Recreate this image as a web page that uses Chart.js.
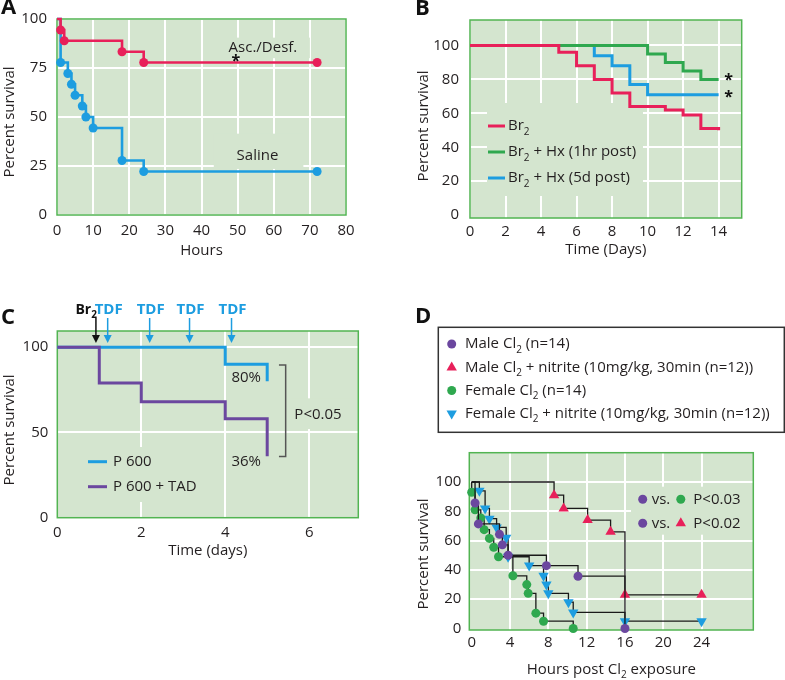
<!DOCTYPE html>
<html>
<head>
<meta charset="utf-8">
<title>Survival curves</title>
<script src="https://cdn.jsdelivr.net/npm/chart.js@4.4.1/dist/chart.umd.min.js"></script>
<style>
  html, body { margin: 0; padding: 0; background: #ffffff; }
  #page { position: relative; width: 785px; height: 680px; overflow: hidden; }
  #page canvas { position: absolute; }
</style>
</head>
<body>
<div id="page">
  <canvas id="panelA" width="390" height="265" style="left:0px;top:0px"></canvas>
  <canvas id="panelB" width="395" height="265" style="left:390px;top:0px"></canvas>
  <canvas id="panelC" width="390" height="275" style="left:0px;top:290px"></canvas>
  <canvas id="panelD" width="395" height="380" style="left:390px;top:300px"></canvas>
</div>
<script>
// ---------- Panel A: hours vs percent survival
const ascHours = [0, 1, 2, 18, 24, 72];
const ascSurvival = [100, 94.4, 88.9, 83.3, 77.8, 77.8];
const salineHours = [0, 1, 3, 4, 5, 7, 8, 10, 18, 24, 72];
const salineSurvival = [100, 77.8, 72.2, 66.7, 61.1, 55.6, 50, 44.4, 27.8, 22.2, 22.2];
const hourTicksA = [0, 10, 20, 30, 40, 50, 60, 70, 80];
const survivalTicksA = [0, 25, 50, 75, 100];

// ---------- Panel B: days vs percent survival
const br2Days = [0, 5, 6, 7, 8, 9, 11, 12, 13, 14];
const br2Survival = [100, 96, 88, 80, 72, 64, 62, 59, 51, 50];
const hx1hDays = [0, 10, 11, 12, 13, 14];
const hx1hSurvival = [100, 95, 90, 85, 80, 80];
const hx5dDays = [0, 7, 8, 9, 10, 14];
const hx5dSurvival = [100, 94, 88, 77, 71, 71];
const dayTicksB = [0, 2, 4, 6, 8, 10, 12, 14];
const survivalTicksB = [0, 20, 40, 60, 80, 100];
const legendB = ['Br_2', 'Br_2 + Hx (1hr post)', 'Br_2 + Hx (5d post)'];

// ---------- Panel C
const p600Days = [0, 4, 5];
const p600Survival = [100, 90, 80];
const tadDays = [0, 1, 2, 4, 5];
const tadSurvival = [100, 79, 68, 58, 36];
const br2DoseDay = 0.92;
const tdfDays = [1.2, 2.2, 3.15, 4.15];
const dayTicksC = [0, 2, 4, 6];
const survivalTicksC = [0, 50, 100];
const legendC = ['P 600', 'P 600 + TAD'];

// ---------- Panel D
const maleHours = [0, 0.35, 0.7, 2.9, 3.2, 3.8, 7.8, 11.1, 16];
const maleSurvival = [100, 85.7, 71.4, 64.3, 57.1, 50, 42.9, 35.7, 0];
const maleNitHours = [0, 8.6, 9.6, 12.1, 14.5, 16, 24];
const maleNitSurvival = [100, 91, 82, 74, 66, 23, 23];
const femaleHours = [0, 0, 0.35, 0.95, 1.3, 1.85, 2.3, 2.8, 4.3, 5.75, 5.9, 6.7, 7.5, 10.6];
const femaleSurvival = [100, 93, 81, 75.5, 67.5, 61.5, 55.5, 49, 36, 30, 24, 10.5, 5, 0];
const femaleNitHours = [0, 0.8, 1.4, 1.85, 2.6, 3.6, 3.8, 6, 7.5, 7.8, 8, 10.1, 10.6, 16, 24];
const femaleNitSurvival = [100, 94, 82, 75, 69, 62, 49, 43, 36, 30, 24, 18, 11, 5, 5];
const hourTicksD = [0, 4, 8, 12, 16, 20, 24];
const survivalTicksD = [0, 20, 40, 60, 80, 100];
const legendD = [
  'Male Cl_2 (n=14)',
  'Male Cl_2 + nitrite (10mg/kg, 30min (n=12))',
  'Female Cl_2 (n=14)',
  'Female Cl_2 + nitrite (10mg/kg, 30min (n=12))'
];

const FONT = '"Open Sans", sans-serif';
const INK = '#231f20';
const PLOT_BG = '#d4e5cf';
const FRAME = '#52b452';
const RED = '#e8205a';
const BLUE = '#1d9de0';
const GREEN = '#2fa84f';
const PURPLE = '#6b479f';

Chart.defaults.font.family = FONT;
Chart.defaults.font.size = 15;
Chart.defaults.color = INK;

const pts = (xs, ys) => xs.map((v, i) => ({ x: v, y: ys[i] }));

// draws text; "_2" marks a subscript digit
function rich(ctx, str, x, y, size, opt) {
  opt = opt || {};
  const parts = str.split(/_(\d)/);
  const weight = opt.weight || 'normal';
  const sub = Math.round(size * 0.68);
  ctx.save();
  ctx.fillStyle = opt.color || INK;
  ctx.textBaseline = 'middle';
  ctx.textAlign = 'left';
  const w = parts.map((p, i) => {
    ctx.font = weight + ' ' + (i % 2 ? sub : size) + 'px ' + FONT;
    return ctx.measureText(p).width;
  });
  const total = w.reduce((s, v) => s + v, 0);
  let cx = opt.align === 'center' ? x - total / 2 : opt.align === 'right' ? x - total : x;
  parts.forEach((p, i) => {
    ctx.font = weight + ' ' + (i % 2 ? sub : size) + 'px ' + FONT;
    ctx.fillText(p, cx, i % 2 ? y + size * 0.4 : y);
    cx += w[i];
  });
  ctx.restore();
}

function yTitle(ctx, text, cx, cy) {
  ctx.save();
  ctx.translate(cx, cy);
  ctx.rotate(-Math.PI / 2);
  ctx.fillStyle = INK;
  ctx.font = '15px ' + FONT;
  ctx.textAlign = 'center';
  ctx.textBaseline = 'middle';
  ctx.fillText(text, 0, 0);
  ctx.restore();
}

function letter(ctx, t, x, y) {
  ctx.save();
  ctx.fillStyle = '#111';
  ctx.font = 'bold 22px ' + FONT;
  ctx.textBaseline = 'middle';
  ctx.fillText(t, x, y);
  ctx.restore();
}

function star(ctx, x, y) {
  ctx.save();
  ctx.fillStyle = '#111';
  ctx.font = 'bold 16px ' + FONT;
  ctx.textAlign = 'center';
  ctx.textBaseline = 'middle';
  ctx.fillText('*', x, y + 4);
  ctx.restore();
}

function marker(ctx, style, x, y, r, color) {
  ctx.save();
  ctx.fillStyle = color;
  ctx.beginPath();
  if (style === 'circle') {
    ctx.arc(x, y, r, 0, Math.PI * 2);
  } else {
    const s = style === 'down' ? -1 : 1;
    const h = r * Math.sin(Math.PI / 3);
    ctx.moveTo(x, y - s * r);
    ctx.lineTo(x + h, y + s * r / 2);
    ctx.lineTo(x - h, y + s * r / 2);
    ctx.closePath();
  }
  ctx.fill();
  ctx.restore();
}

function arrow(ctx, x, y0, y1, color) {
  ctx.save();
  ctx.strokeStyle = color;
  ctx.fillStyle = color;
  ctx.lineWidth = 1.5;
  ctx.beginPath();
  ctx.moveTo(x, y0);
  ctx.lineTo(x, y1 - 6);
  ctx.stroke();
  ctx.beginPath();
  ctx.moveTo(x - 4, y1 - 8);
  ctx.lineTo(x + 4, y1 - 8);
  ctx.lineTo(x, y1);
  ctx.closePath();
  ctx.fill();
  ctx.restore();
}

function swatch(ctx, x0, x1, y, color) {
  ctx.save();
  ctx.strokeStyle = color;
  ctx.lineWidth = 3;
  ctx.beginPath();
  ctx.moveTo(x0, y);
  ctx.lineTo(x1, y);
  ctx.stroke();
  ctx.restore();
}

// plot-coloured patch that hides grid lines behind labels
function backBox(chart, x0, x1, y0, y1) {
  const { ctx, scales: { x, y } } = chart;
  const l = x.getPixelForValue(x0), r = x.getPixelForValue(x1);
  const t = y.getPixelForValue(y0), b = y.getPixelForValue(y1);
  ctx.save();
  ctx.fillStyle = PLOT_BG;
  ctx.fillRect(l, t, r - l, b - t);
  ctx.restore();
}

function pxBox(chart, dl, dt, w, h) {
  const { ctx, chartArea: a } = chart;
  ctx.save();
  ctx.fillStyle = PLOT_BG;
  ctx.fillRect(a.left + dl, a.top + dt, w, h);
  ctx.restore();
}

function drawFrame(chart) {
  const { ctx, chartArea: a } = chart;
  ctx.save();
  ctx.strokeStyle = FRAME;
  ctx.lineWidth = 1.5;
  ctx.strokeRect(a.left, a.top, a.width, a.height);
  ctx.restore();
}

Chart.register({
  id: 'plotBackground',
  beforeDraw(chart) {
    const { ctx, chartArea: a } = chart;
    ctx.save();
    ctx.fillStyle = PLOT_BG;
    ctx.fillRect(a.left, a.top, a.width, a.height);
    ctx.restore();
  }
});

function linAxis(min, max, ticks, size, pad, hideAt, title, titlePad) {
  return {
    type: 'linear',
    min: min,
    max: max,
    afterBuildTicks: s => { s.ticks = ticks.map(v => ({ value: v })); },
    afterFit: s => {
      if (size.width != null) s.width = size.width;
      if (size.height != null) s.height = size.height;
    },
    grid: {
      color: c => (c.tick && hideAt.includes(c.tick.value)) ? 'rgba(0,0,0,0)' : '#ffffff',
      lineWidth: 2,
      drawTicks: false
    },
    border: { display: false },
    ticks: { padding: pad, color: INK, autoSkip: false, maxRotation: 0, font: { size: 15 } },
    title: title ? { display: true, text: title, color: INK, font: { size: 15 }, padding: titlePad } : { display: false }
  };
}

function baseOptions(padding, xAxis, yAxis) {
  return {
    responsive: false,
    maintainAspectRatio: false,
    animation: false,
    events: [],
    layout: { padding: padding },
    plugins: { legend: { display: false }, tooltip: { enabled: false } },
    scales: { x: xAxis, y: yAxis }
  };
}

function kmLine(xs, ys, color, width, radius) {
  return {
    data: pts(xs, ys),
    stepped: 'before',
    borderColor: color,
    borderWidth: width,
    pointRadius: c => (c.dataIndex === 0 ? 0 : radius),
    pointBackgroundColor: color,
    pointBorderWidth: 0,
    clip: false
  };
}

function kmMarked(xs, ys, color, style, radius, rotation) {
  return {
    data: pts(xs, ys),
    stepped: 'before',
    borderColor: '#1a1a1a',
    borderWidth: 1.3,
    pointStyle: style,
    pointRotation: rotation,
    pointRadius: c => (c.dataIndex === 0 ? 0 : radius),
    pointBackgroundColor: color,
    pointBorderColor: color,
    pointBorderWidth: 0,
    clip: false
  };
}

// ---------- A
new Chart(document.getElementById('panelA'), {
  type: 'line',
  data: {
    datasets: [
      kmLine(ascHours, ascSurvival, RED, 2.6, 4.5),
      kmLine(salineHours, salineSurvival, BLUE, 2.6, 4.5)
    ]
  },
  options: baseOptions({ top: 14, right: 44, left: 0, bottom: 0 },
    linAxis(0, 80, hourTicksA, { height: 50 }, 7, [], 'Hours', { top: 0, bottom: 5 }),
    linAxis(0, 100, survivalTicksA, { width: 57 }, 10, [], null)),
  plugins: [{
    id: 'decorA',
    beforeDatasetsDraw(chart) {
      backBox(chart, 45, 70, 90.5, 80);
      backBox(chart, 43.4, 68.2, 41.5, 23.5);
      drawFrame(chart);
    },
    afterDraw(chart) {
      const { ctx, scales: { x, y } } = chart;
      rich(ctx, 'Asc./Desf.', x.getPixelForValue(57), y.getPixelForValue(85.5), 15, { align: 'center' });
      star(ctx, x.getPixelForValue(49.5), y.getPixelForValue(80.6));
      rich(ctx, 'Saline', x.getPixelForValue(55.5), y.getPixelForValue(30), 15, { align: 'center' });
      letter(ctx, 'A', 1, 8);
      yTitle(ctx, 'Percent survival', 9.5, 122);
    }
  }]
});

// ---------- B
new Chart(document.getElementById('panelB'), {
  type: 'line',
  data: {
    datasets: [
      kmLine(br2Days, br2Survival, RED, 3, 0),
      kmLine(hx1hDays, hx1hSurvival, GREEN, 3, 0),
      kmLine(hx5dDays, hx5dSurvival, BLUE, 3, 0)
    ]
  },
  options: baseOptions({ top: 14, right: 43.3, left: 0, bottom: 0 },
    linAxis(0, 15.3, dayTicksB, { height: 47 }, 5, [], 'Time (Days)', { top: 0, bottom: 6 }),
    linAxis(-1.7, 115, survivalTicksB, { width: 80 }, 11, [0], null)),
  plugins: [{
    id: 'decorB',
    beforeDatasetsDraw(chart) {
      pxBox(chart, 17, 83, 156, 93);
      drawFrame(chart);
    },
    afterDraw(chart) {
      const { ctx, chartArea: a, scales: { x, y } } = chart;
      star(ctx, x.getPixelForValue(14.56), y.getPixelForValue(81.6));
      star(ctx, x.getPixelForValue(14.56), y.getPixelForValue(71.5));
      const colors = [RED, GREEN, BLUE];
      legendB.forEach((t, i) => {
        const ry = a.top + 106 + i * 26;
        swatch(ctx, a.left + 18, a.left + 35, ry, colors[i]);
        rich(ctx, t, a.left + 38, ry, 15);
      });
      letter(ctx, 'B', 25, 9);
      yTitle(ctx, 'Percent survival', 33.3, 126);
    }
  }]
});

// ---------- C
new Chart(document.getElementById('panelC'), {
  type: 'line',
  data: {
    datasets: [
      kmLine(tadDays, tadSurvival, PURPLE, 3, 0),
      kmLine(p600Days, p600Survival, BLUE, 3, 0)
    ]
  },
  options: baseOptions({ top: 41, right: 31.7, left: 0, bottom: 0 },
    linAxis(0, 7.17, dayTicksC, { height: 47.3 }, 6, [], 'Time (days)', { top: 0, bottom: 5 }),
    linAxis(0, 109.5, survivalTicksC, { width: 57.3 }, 9, [], null)),
  plugins: [{
    id: 'decorC',
    beforeDatasetsDraw(chart) {
      pxBox(chart, 23, 116, 135, 55);
      backBox(chart, 5.55, 7.1, 70, 52);
      drawFrame(chart);
    },
    afterDraw(chart) {
      const { ctx, chartArea: a, scales: { x, y } } = chart;
      const bx = x.getPixelForValue(br2DoseDay);
      rich(ctx, 'Br_2', bx + 1, a.top - 21, 14, { align: 'right', weight: 'bold', color: '#111' });
      arrow(ctx, bx, a.top - 13, a.top + 12, '#111');
      tdfDays.forEach(d => {
        const tx = x.getPixelForValue(d);
        rich(ctx, 'TDF', tx + 1, a.top - 21, 15, { align: 'center', weight: 'bold', color: BLUE });
        arrow(ctx, tx, a.top - 13, a.top + 12, BLUE);
      });
      rich(ctx, '80%', x.getPixelForValue(4.5), y.getPixelForValue(82), 15, { align: 'center' });
      rich(ctx, '36%', x.getPixelForValue(4.5), y.getPixelForValue(33), 15, { align: 'center' });
      // significance bracket
      const kx = x.getPixelForValue(5.44), kl = x.getPixelForValue(5.28);
      const kt = y.getPixelForValue(89.6), kb = y.getPixelForValue(35.9);
      ctx.save();
      ctx.strokeStyle = '#555';
      ctx.lineWidth = 1.5;
      ctx.beginPath();
      ctx.moveTo(kl, kt);
      ctx.lineTo(kx, kt);
      ctx.lineTo(kx, kb);
      ctx.lineTo(kl, kb);
      ctx.stroke();
      ctx.restore();
      rich(ctx, 'P<0.05', x.getPixelForValue(6.21), y.getPixelForValue(60.3), 15, { align: 'center' });
      const colors = [BLUE, PURPLE];
      legendC.forEach((t, i) => {
        const ry = a.top + 130.7 + i * 25;
        swatch(ctx, a.left + 30.7, a.left + 49.7, ry, colors[i]);
        rich(ctx, t, a.left + 55.7, ry, 15);
      });
      letter(ctx, 'C', 1, 27.5);
      yTitle(ctx, 'Percent survival', 9.5, 140);
    }
  }]
});

// ---------- D
new Chart(document.getElementById('panelD'), {
  type: 'line',
  data: {
    datasets: [
      kmMarked(maleHours, maleSurvival, PURPLE, 'circle', 4.5, 0),
      kmMarked(maleNitHours, maleNitSurvival, RED, 'triangle', 6, 0),
      kmMarked(femaleHours, femaleSurvival, GREEN, 'circle', 4.5, 0),
      kmMarked(femaleNitHours, femaleNitSurvival, BLUE, 'triangle', 6, 180)
    ]
  },
  options: baseOptions({ top: 152.7, right: 31.7, left: 0, bottom: 0 },
    linAxis(-0.25, 29.4, hourTicksD, { height: 50 }, 4, [0], null),
    linAxis(-1, 120, survivalTicksD, { width: 79.3 }, 8, [0], null)),
  plugins: [{
    id: 'decorD',
    beforeDatasetsDraw(chart) {
      const a = chart.chartArea;
      pxBox(chart, 161.7, 34, a.width - 161.7, 48);
      drawFrame(chart);
    },
    afterDraw(chart) {
      const { ctx, chartArea: a } = chart;
      // group legend box
      ctx.save();
      ctx.fillStyle = '#ffffff';
      ctx.strokeStyle = '#333';
      ctx.lineWidth = 1.5;
      ctx.fillRect(48.3, 27.3, 346, 105);
      ctx.strokeRect(48.3, 27.3, 346, 105);
      ctx.restore();
      const styles = [['circle', PURPLE, 4.5], ['triangle', RED, 6], ['circle', GREEN, 4.5], ['down', BLUE, 6]];
      const rows = [44, 67.5, 90.5, 113.5];
      legendD.forEach((t, i) => {
        marker(ctx, styles[i][0], 61.7, rows[i], styles[i][2], styles[i][1]);
        rich(ctx, t, 75, rows[i], 15);
      });
      // significance key
      const vs = [[GREEN, 'circle', 'P<0.03'], [RED, 'triangle', 'P<0.02']];
      vs.forEach((v, i) => {
        const ry = a.top + 46.6 + i * 24;
        marker(ctx, 'circle', a.left + 173.4, ry, 4.5, PURPLE);
        rich(ctx, 'vs.', a.left + 182.4, ry, 15);
        marker(ctx, v[1], a.left + 211.5, ry, v[1] === 'circle' ? 4.5 : 6, v[0]);
        rich(ctx, v[2], a.left + 224, ry, 15);
      });
      rich(ctx, 'Hours post Cl_2 exposure', (a.left + a.right) / 2, 369.3, 15, { align: 'center' });
      letter(ctx, 'D', 25, 17);
      yTitle(ctx, 'Percent survival', 33.3, 254);
    }
  }]
});
</script>
</body>
</html>
